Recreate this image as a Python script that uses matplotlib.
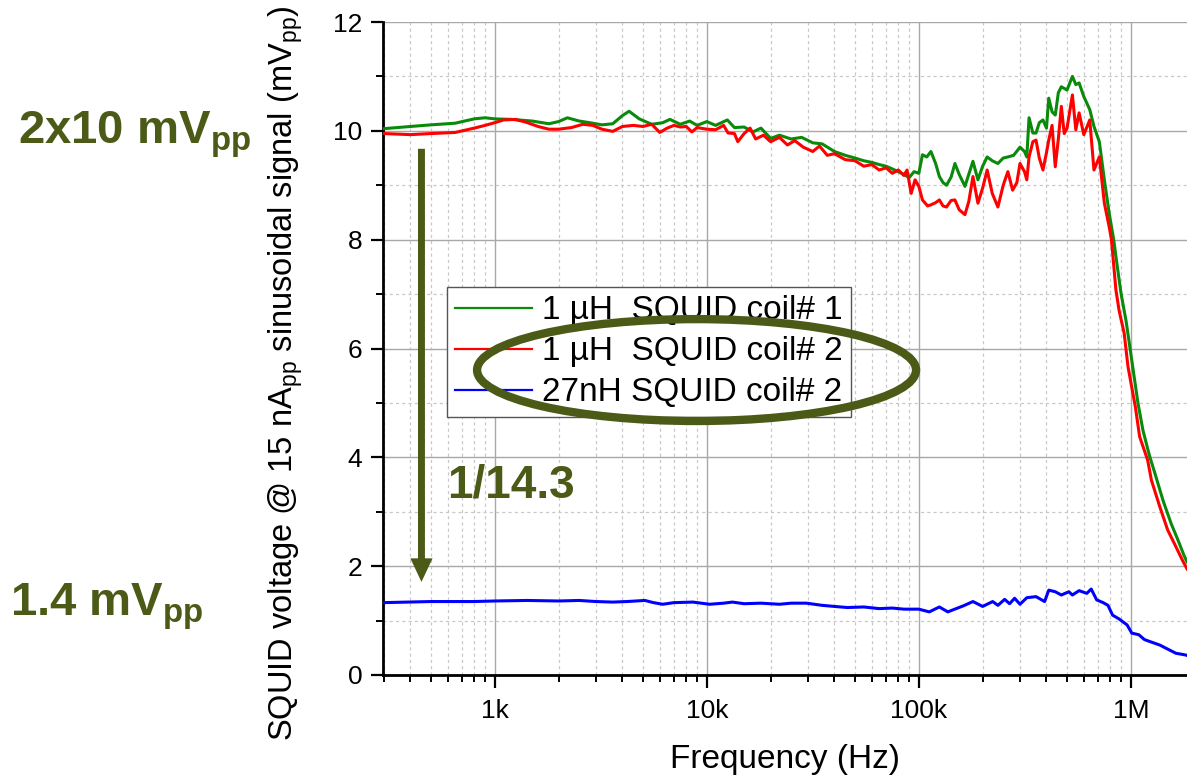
import matplotlib
matplotlib.use("Agg")
import matplotlib.pyplot as plt
from matplotlib.patches import Ellipse
from matplotlib.ticker import FixedLocator, NullFormatter

plt.rcParams['font.family'] = ['Liberation Sans', 'DejaVu Sans']
plt.rcParams['mathtext.fontset'] = 'custom'
plt.rcParams['mathtext.rm'] = 'Liberation Sans'
plt.rcParams['mathtext.bf'] = 'Liberation Sans:bold'
plt.rcParams['mathtext.it'] = 'Liberation Sans:italic'

OLIVE = '#4b5a16'

# 1 uH SQUID coil# 1 (green)
f_coil1 = [300, 400, 500, 650, 800, 900, 1000, 1200, 1500, 1800, 2000, 2200, 2500,
           2800, 3200, 3600, 4000, 4300, 4800, 5500, 6200, 6700, 7500, 8300, 9000,
           10000, 11000, 12500, 13500, 15000, 16500, 18000, 20000, 22000, 25000,
           28000, 31600, 35000, 40000, 45000, 50000, 55000, 60000, 65000, 70000,
           75000, 80000, 85000, 90000, 95000, 100000, 104000, 109000, 114000,
           120000, 125000, 130000, 135000, 142000, 148000, 155000, 165000, 172000,
           180000, 190000, 200000, 210000, 222000, 236000, 250000, 263000, 280000,
           300000, 315000, 323000, 331000, 345000, 357000, 370000, 385000, 400000,
           410000, 425000, 440000, 455000, 470000, 500000, 530000, 550000, 570000,
           600000, 640000, 670000, 710000, 750000, 790000, 830000, 860000, 900000,
           950000, 1000000, 1080000, 1140000, 1220000, 1300000, 1420000, 1550000,
           1680000, 1780000, 1840000]
v_coil1 = [10.04, 10.08, 10.11, 10.14, 10.22, 10.24, 10.22, 10.21, 10.18, 10.13, 10.17,
           10.24, 10.18, 10.15, 10.11, 10.13, 10.28, 10.36, 10.22, 10.12, 10.15, 10.21,
           10.12, 10.18, 10.10, 10.17, 10.10, 10.20, 10.06, 10.07, 9.98, 10.05, 9.86,
           9.92, 9.85, 9.88, 9.78, 9.76, 9.62, 9.55, 9.50, 9.45, 9.42, 9.38, 9.35,
           9.30, 9.25, 9.20, 9.14, 9.25, 9.22, 9.56, 9.52, 9.62, 9.40, 9.16, 9.05,
           9.00, 9.15, 9.40, 9.20, 8.98, 9.20, 9.44, 9.10, 9.35, 9.52, 9.45, 9.40,
           9.50, 9.52, 9.55, 9.70, 9.62, 9.52, 10.24, 9.96, 9.96, 10.15, 10.20, 10.05,
           10.60, 10.35, 10.29, 10.70, 10.81, 10.75, 11.00, 10.85, 10.88, 10.63,
           10.39, 10.08, 9.80, 9.10, 8.49, 8.00, 7.55, 7.00, 6.50, 5.90, 5.00, 4.50,
           4.05, 3.70, 3.20, 2.78, 2.45, 2.20, 2.08]

# 1 uH SQUID coil# 2 (red)
f_coil2 = [300, 400, 500, 650, 800, 900, 1000, 1100, 1250, 1400, 1600, 1800, 2000,
           2300, 2600, 2900, 3200, 3600, 4000, 4500, 5000, 5500, 6000, 6500, 7000,
           7500, 8000, 8500, 9000, 10000, 11000, 12000, 12600, 13500, 14000, 15000,
           16000, 17000, 18500, 20000, 22000, 24000, 26000, 28500, 31600, 34000,
           37000, 40000, 45000, 50000, 55000, 60000, 65000, 70000, 75000, 80000,
           85000, 88000, 92000, 96000, 100000, 104000, 110000, 114000, 120000,
           125000, 130000, 135000, 142000, 148000, 155000, 165000, 172000, 180000,
           190000, 200000, 210000, 222000, 236000, 250000, 263000, 277000, 290000,
           300000, 315000, 323000, 331000, 345000, 357000, 370000, 385000, 400000,
           410000, 425000, 440000, 455000, 470000, 485000, 500000, 530000, 550000,
           570000, 600000, 640000, 670000, 710000, 750000, 790000, 810000, 850000,
           880000, 930000, 970000, 1050000, 1100000, 1200000, 1250000, 1370000,
           1490000, 1630000, 1750000, 1840000]
v_coil2 = [9.95, 9.93, 9.95, 9.97, 10.05, 10.10, 10.15, 10.20, 10.21, 10.16, 10.08,
           10.03, 10.03, 10.06, 10.12, 10.10, 10.03, 9.99, 10.08, 10.10, 10.08, 10.12,
           9.97, 10.05, 10.10, 10.07, 10.08, 9.98, 10.06, 10.03, 10.02, 10.10, 9.96,
           9.95, 9.80, 9.95, 10.05, 9.85, 9.92, 9.80, 9.88, 9.74, 9.82, 9.70, 9.62,
           9.72, 9.55, 9.58, 9.47, 9.45, 9.35, 9.38, 9.28, 9.32, 9.22, 9.28, 9.18,
           9.28, 8.85, 9.10, 8.98, 8.73, 8.62, 8.64, 8.68, 8.73, 8.62, 8.60, 8.72,
           8.73, 8.55, 8.46, 8.70, 9.16, 8.67, 8.95, 9.28, 8.85, 8.60, 9.00, 9.25,
           8.91, 9.05, 9.40, 9.25, 9.10, 9.52, 9.80, 9.83, 9.50, 9.28, 9.60, 9.83,
           10.10, 9.34, 9.85, 10.45, 9.95, 10.05, 10.66, 10.02, 10.33, 9.93, 10.20,
           9.28, 9.52, 8.67, 8.24, 8.00, 7.08, 6.70, 6.28, 5.66, 4.93, 4.38, 3.95,
           3.58, 3.09, 2.67, 2.36, 2.11, 1.95]

# 27nH SQUID coil# 2 (blue)
f_27nh = [300, 500, 800, 1000, 1420, 2000, 2500, 3000, 3600, 4200, 5100, 5600, 6200,
          7000, 8600, 10300, 12000, 13200, 15000, 18000, 22000, 25000, 29500, 35000,
          40000, 46000, 55000, 65000, 75000, 85000, 100000, 112000, 125000, 137000,
          150000, 162000, 180000, 200000, 223000, 236000, 254000, 268000, 283000,
          300000, 323000, 357000, 392000, 410000, 440000, 470000, 510000, 530000,
          570000, 620000, 650000, 690000, 740000, 780000, 820000, 880000, 960000,
          1010000, 1090000, 1160000, 1260000, 1370000, 1520000, 1630000, 1800000,
          1840000]
v_27nh = [1.33, 1.35, 1.35, 1.36, 1.37, 1.36, 1.37, 1.35, 1.34, 1.35, 1.37, 1.33, 1.30,
          1.33, 1.34, 1.30, 1.32, 1.34, 1.31, 1.32, 1.30, 1.32, 1.32, 1.28, 1.26, 1.24,
          1.25, 1.22, 1.23, 1.21, 1.21, 1.16, 1.25, 1.16, 1.22, 1.27, 1.35, 1.26, 1.35,
          1.28, 1.39, 1.31, 1.41, 1.30, 1.42, 1.44, 1.35, 1.56, 1.53, 1.47, 1.53, 1.47,
          1.55, 1.50, 1.58, 1.38, 1.33, 1.28, 1.10, 1.03, 0.92, 0.77, 0.74, 0.65, 0.60,
          0.55, 0.46, 0.40, 0.37, 0.36]

labels = ['1 µH  SQUID coil# 1', '1 µH  SQUID coil# 2', '27nH SQUID coil# 2']
x_major = [1e3, 1e4, 1e5, 1e6]
x_major_labels = ['1k', '10k', '100k', '1M']

fig = plt.figure(figsize=(11.87, 7.78), dpi=100)
ax = fig.add_axes([383 / 1187, 103 / 778, 804 / 1187, 653 / 778])

ax.plot(f_coil1, v_coil1, color='#0a8a0a', lw=2.2, label=labels[0], zorder=3)
ax.plot(f_coil2, v_coil2, color='#ff0000', lw=2.2, label=labels[1], zorder=3)
ax.plot(f_27nh, v_27nh, color='#0000ff', lw=2.2, label=labels[2], zorder=3)

ax.set_xscale('log')
ax.set_xlim(297, 1.84e6)
ax.set_ylim(0, 12)

ax.set_xticks(x_major)
ax.set_xticklabels(x_major_labels)
minor_x = [m * d for d in [100, 1000, 10000, 100000, 1000000] for m in range(2, 10)]
ax.xaxis.set_minor_locator(FixedLocator(minor_x))
ax.xaxis.set_minor_formatter(NullFormatter())
ax.set_yticks(range(0, 13, 2))
ax.yaxis.set_minor_locator(FixedLocator(range(1, 13, 2)))

ax.grid(which='major', color='#a8a8a8', lw=1.0, ls='-')
ax.grid(which='minor', color='#c8c8c8', lw=0.9, ls=(0, (2.5, 2.5)))
ax.set_axisbelow(True)

for s in ['top', 'right']:
    ax.spines[s].set_visible(False)
for s in ['left', 'bottom']:
    ax.spines[s].set_linewidth(2.0)
    ax.spines[s].set_color('black')

ax.tick_params(which='major', direction='out', length=9, width=1.6, labelsize=19)
ax.tick_params(which='minor', direction='out', length=5, width=1.4)
ax.tick_params(axis='x', which='major', pad=8)
ax.tick_params(axis='y', which='major', pad=6)

ax.set_xlabel('Frequency (Hz)', fontsize=24)
ax.xaxis.set_label_coords(0.5, -0.105)
ax.set_ylabel(r'SQUID voltage @ 15 nA$_{\mathrm{pp}}$ sinusoidal signal (mV$_{\mathrm{pp}}$)',
              fontsize=23.5)
ax.yaxis.set_label_coords(-0.097, 0.4625)

leg = ax.legend(loc='upper left', bbox_to_anchor=(0.0796, 0.594), fontsize=24,
                frameon=True, fancybox=False, framealpha=1, edgecolor='#555555',
                borderpad=0.25, labelspacing=0.3, handlelength=2.3,
                handletextpad=0.3, borderaxespad=0)
leg.get_frame().set_linewidth(1.0)
for line in leg.get_lines():
    line.set_linewidth(1.6)

# ellipse around the legend entries
ell = Ellipse((0.390, 0.467), 0.546, 0.156, transform=ax.transAxes, fill=False,
              edgecolor=OLIVE, lw=6, zorder=10, clip_on=False)
ax.add_artist(ell)

# down arrow from 10 mV to 1.4 mV
ax.annotate('', xy=(451, 1.71), xytext=(451, 9.67),
            arrowprops=dict(width=5, headwidth=16, headlength=17, shrink=0,
                            color=OLIVE, lw=0), zorder=6)

fig.text(447 / 1187, 1 - 498 / 778, '1/14.3', fontsize=33, fontweight='bold',
         color=OLIVE, va='baseline', ha='left')
fig.text(18 / 1187, 1 - 143 / 778, r'2x10 mV$_{\mathbf{pp}}$', fontsize=34,
         fontweight='bold', color=OLIVE, va='baseline', ha='left')
fig.text(10 / 1187, 1 - 616 / 778, r'1.4 mV$_{\mathbf{pp}}$', fontsize=34,
         fontweight='bold', color=OLIVE, va='baseline', ha='left')

plt.savefig('out.png', dpi=100)
